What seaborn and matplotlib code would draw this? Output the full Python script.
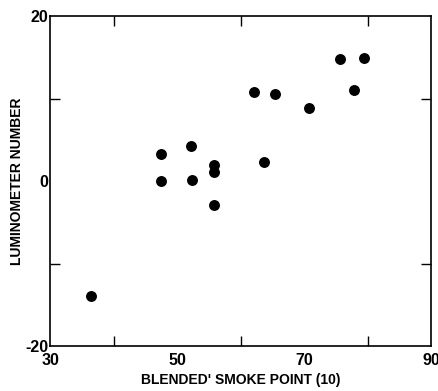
import matplotlib
matplotlib.use("Agg")
import matplotlib.pyplot as plt
import pandas as pd
import seaborn as sns

# values
smoke_point = [36.5, 47.5, 47.5, 52.2, 52.4, 55.8, 55.8, 55.8, 62.1, 65.4, 63.7, 70.7, 75.7, 79.5, 77.9]
luminometer = [-13.9, 3.3, 0.0, 4.2, 0.1, 2.0, 1.05, -2.9, 10.8, 10.6, 2.3, 8.9, 14.8, 14.9, 11.0]

x_major = [30, 50, 70, 90]
x_minor = [40, 60, 80]
y_major = [-20, 0, 20]
y_minor = [-10, 10]

sns.set_theme(style="ticks")
plt.rcParams["font.family"] = ["Liberation Sans", "DejaVu Sans"]
plt.rcParams["axes.unicode_minus"] = False

df = pd.DataFrame({"x": smoke_point, "y": luminometer})

fig = plt.figure(figsize=(4.39, 3.91), dpi=100)
ax = fig.add_axes([0.114, 0.115, 0.868, 0.844])
sns.scatterplot(data=df, x="x", y="y", ax=ax, color="black", s=62, edgecolor="black", linewidth=0)

ax.set_xlim(30, 90)
ax.set_ylim(-20, 20)
ax.set_xticks(x_major)
ax.set_xticks(x_minor, minor=True)
ax.set_yticks(y_major)
ax.set_yticks(y_minor, minor=True)
ax.tick_params(which="both", direction="in", top=True, right=True, color="black",
               labelcolor="black", width=1)
ax.tick_params(which="major", length=0, labelsize=11.5)
ax.tick_params(axis="x", which="major", pad=5)
ax.tick_params(axis="y", which="major", pad=1)
ax.tick_params(which="minor", length=7)
for lab in ax.get_xticklabels() + ax.get_yticklabels():
    lab.set_fontweight("bold")
for sp in ax.spines.values():
    sp.set_color("black")
    sp.set_linewidth(1.2)

ax.set_xlabel("BLENDED' SMOKE POINT (10)", fontsize=10, fontweight="bold", color="black")
ax.set_ylabel("LUMINOMETER NUMBER", fontsize=10, fontweight="bold", color="black")
ax.xaxis.set_label_coords(0.5, -0.103)
ax.yaxis.set_label_coords(-0.087, 0.5)
ax.xaxis.label.set_va("center")
ax.yaxis.label.set_va("center")

fig.savefig("out.png", dpi=100, facecolor="white")
